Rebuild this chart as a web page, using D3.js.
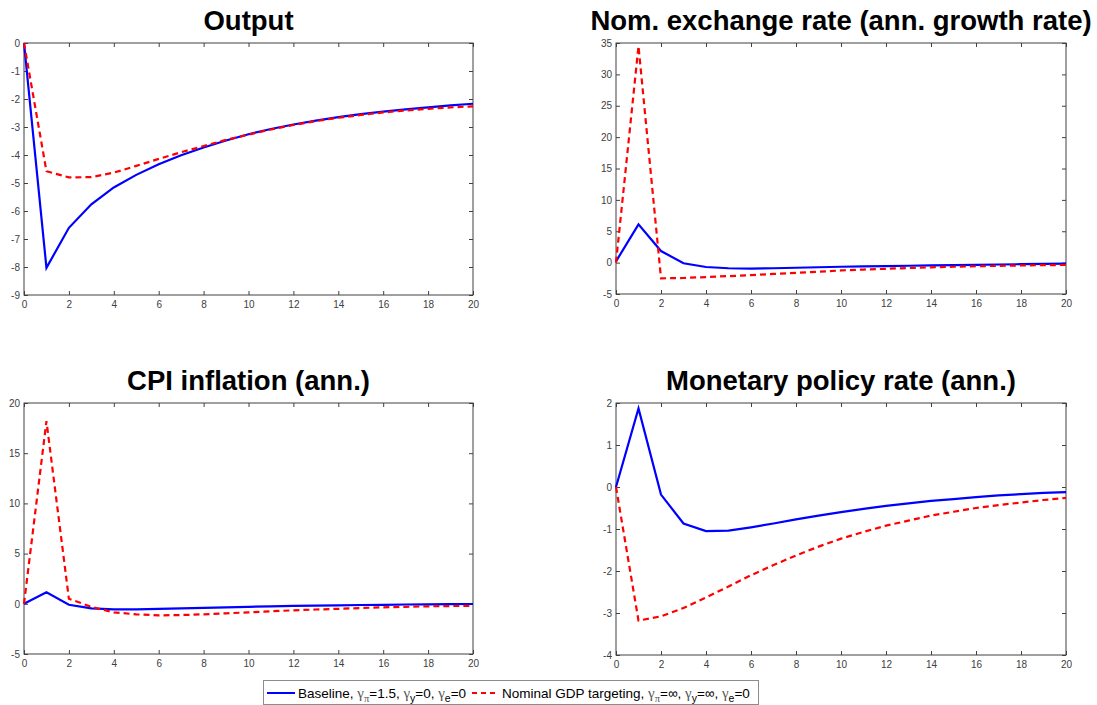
<!DOCTYPE html>
<html>
<head>
<meta charset="utf-8">
<script src="https://cdn.jsdelivr.net/npm/d3@7"></script>
<style>
  body { margin: 0; background: #fff; }
  svg { font-family: "Liberation Sans", Arial, sans-serif; }
  .tick text { fill: #404040; font-size: 10px; }
  .title { font-weight: bold; font-size: 27.5px; fill: #000; }
</style>
</head>
<body>
<div id="chart"></div>
<script>
const width = 1097, height = 705;

// horizon (quarters)
const periods = d3.range(0, 21);

// Output
const outputBase = [0, -8.03, -6.6, -5.76, -5.16, -4.71, -4.33, -4.01, -3.73, -3.48, -3.26, -3.07, -2.91, -2.77, -2.65, -2.54, -2.45, -2.37, -2.3, -2.23, -2.17];
const outputNgdp = [0, -4.58, -4.8, -4.79, -4.63, -4.39, -4.14, -3.9, -3.68, -3.46, -3.27, -3.09, -2.93, -2.79, -2.67, -2.57, -2.48, -2.41, -2.35, -2.3, -2.26];

// Nominal exchange rate (ann. growth rate)
const exchBase = [0.2, 6.1, 1.85, -0.1, -0.7, -0.9, -0.95, -0.9, -0.82, -0.74, -0.66, -0.6, -0.55, -0.5, -0.45, -0.4, -0.35, -0.3, -0.25, -0.2, -0.15];
const exchNgdp = [0, 34.5, -2.5, -2.45, -2.3, -2.15, -2.0, -1.8, -1.62, -1.45, -1.25, -1.1, -0.98, -0.86, -0.75, -0.66, -0.58, -0.51, -0.45, -0.4, -0.37];

// CPI inflation (ann.)
const cpiBase = [0, 1.15, -0.1, -0.45, -0.55, -0.55, -0.5, -0.45, -0.4, -0.35, -0.3, -0.25, -0.2, -0.18, -0.15, -0.12, -0.1, -0.07, -0.05, -0.03, -0.02];
const cpiNgdp = [0, 18.2, 0.5, -0.3, -0.85, -1.05, -1.15, -1.12, -1.05, -0.95, -0.85, -0.75, -0.65, -0.57, -0.5, -0.42, -0.35, -0.3, -0.25, -0.22, -0.2];

// Monetary policy rate (ann.)
const rateBase = [0, 1.87, -0.18, -0.87, -1.05, -1.04, -0.96, -0.87, -0.77, -0.68, -0.6, -0.52, -0.45, -0.39, -0.33, -0.29, -0.24, -0.2, -0.17, -0.14, -0.12];
const rateNgdp = [0, -3.18, -3.08, -2.88, -2.63, -2.37, -2.1, -1.86, -1.63, -1.42, -1.23, -1.07, -0.92, -0.8, -0.68, -0.59, -0.5, -0.43, -0.37, -0.31, -0.26];

const titles = ["Output", "Nom. exchange rate (ann. growth rate)", "CPI inflation (ann.)", "Monetary policy rate (ann.)"];
const yDomains = [[-9, 0], [-5, 35], [-5, 20], [-4, 2]];
const yTicks = [d3.range(-9, 1, 1), d3.range(-5, 36, 5), d3.range(-5, 21, 5), d3.range(-4, 3, 1)];
const xTicks = d3.range(0, 21, 2);

const panels = [
  { box: [24, 43, 473, 295], base: outputBase, ngdp: outputNgdp },
  { box: [616, 43, 1066, 294], base: exchBase, ngdp: exchNgdp },
  { box: [24, 403, 473, 654], base: cpiBase, ngdp: cpiNgdp },
  { box: [616, 403, 1066, 655], base: rateBase, ngdp: rateNgdp }
];

// plain hyphen for negatives, like the original
const fmt = d => String(d);

const svg = d3.select('#chart').append('svg')
  .attr('width', width)
  .attr('height', height);

panels.forEach((p, i) => drawPanel(p, i));

function drawPanel(p, i) {
  const [x0, y0, x1, y1] = p.box;
  const x = d3.scaleLinear().domain([0, 20]).range([x0, x1]);
  const y = d3.scaleLinear().domain(yDomains[i]).range([y1, y0]);
  const g = svg.append('g');

  // axes with inward ticks, mirrored on top/right
  const axisStyle = sel => {
    sel.select('.domain').remove();
    sel.selectAll('.tick line').attr('stroke', '#404040');
  };
  g.append('g').attr('transform', `translate(0,${y1})`)
    .call(d3.axisBottom(x).tickValues(xTicks).tickSizeInner(-4).tickSizeOuter(0).tickPadding(6).tickFormat(fmt))
    .call(axisStyle);
  g.append('g').attr('transform', `translate(0,${y0})`)
    .call(d3.axisTop(x).tickValues(xTicks).tickSizeInner(-4).tickSizeOuter(0).tickFormat(''))
    .call(axisStyle);
  g.append('g').attr('transform', `translate(${x0},0)`)
    .call(d3.axisLeft(y).tickValues(yTicks[i]).tickSizeInner(-4).tickSizeOuter(0).tickPadding(4).tickFormat(fmt))
    .call(axisStyle);
  g.append('g').attr('transform', `translate(${x1},0)`)
    .call(d3.axisRight(y).tickValues(yTicks[i]).tickSizeInner(-4).tickSizeOuter(0).tickFormat(''))
    .call(axisStyle);
  g.selectAll('.tick text').attr('font-family', null).attr('font-size', null).attr('fill', null);

  g.append('rect')
    .attr('x', x0).attr('y', y0)
    .attr('width', x1 - x0).attr('height', y1 - y0)
    .attr('fill', 'none').attr('stroke', '#404040').attr('stroke-width', 1);

  const line = d3.line().x((d, k) => x(periods[k])).y(d => y(d));

  g.append('path').datum(p.base)
    .attr('d', line).attr('fill', 'none')
    .attr('stroke', '#0000ff').attr('stroke-width', 2.2);
  g.append('path').datum(p.ngdp)
    .attr('d', line).attr('fill', 'none')
    .attr('stroke', '#ff0000').attr('stroke-width', 2.2)
    .attr('stroke-dasharray', '6,4');

  svg.append('text').attr('class', 'title')
    .attr('x', (x0 + x1) / 2).attr('y', y0 - 13)
    .attr('text-anchor', 'middle')
    .text(titles[i]);
}

// legend
const leg = svg.append('g').attr('font-size', 13.5);
leg.append('rect')
  .attr('x', 263.5).attr('y', 680.5).attr('width', 495).attr('height', 24)
  .attr('fill', '#fff').attr('stroke', '#8c8c8c');
leg.append('line').attr('x1', 267).attr('x2', 295).attr('y1', 693).attr('y2', 693)
  .attr('stroke', '#0000ff').attr('stroke-width', 2);
leg.append('line').attr('x1', 472).attr('x2', 499).attr('y1', 693).attr('y2', 693)
  .attr('stroke', '#ff0000').attr('stroke-width', 2).attr('stroke-dasharray', '5,4');

function legendText(xPos, lead, parts) {
  const t = leg.append('text').attr('x', xPos).attr('y', 698);
  t.append('tspan').text(lead);
  parts.forEach((pt, k) => {
    t.append('tspan').attr('font-family', '"Liberation Serif", serif').attr('font-size', 15).attr('fill', '#555').text('\u03b3');
    t.append('tspan').attr('font-family', pt.greek ? '"Liberation Serif", serif' : null)
      .attr('font-size', 10.5).attr('dy', 4).attr('fill', pt.greek ? '#555' : null).text(pt.sub);
    t.append('tspan').attr('dy', -4).text(pt.val + (k < parts.length - 1 ? ', ' : ''));
  });
}
legendText(298, 'Baseline, ', [
  { sub: '\u03c0', greek: true, val: '=1.5' },
  { sub: 'y', val: '=0' },
  { sub: 'e', val: '=0' }
]);
legendText(502, 'Nominal GDP targeting, ', [
  { sub: '\u03c0', greek: true, val: '=\u221e' },
  { sub: 'y', val: '=\u221e' },
  { sub: 'e', val: '=0' }
]);
</script>
</body>
</html>
